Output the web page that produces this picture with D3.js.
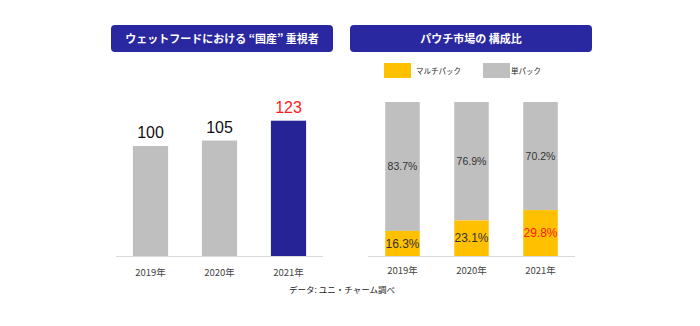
<!DOCTYPE html>
<html lang="ja">
<head>
<meta charset="utf-8">
<style>
  body { margin: 0; background: #fff; }
  text { font-family: "Liberation Sans", Arial, sans-serif; }
  .jp { font-family: "Noto Sans CJK JP", sans-serif; }
</style>
</head>
<body>
<svg width="700" height="326"></svg>
<script src="https://d3js.org/d3.v7.min.js"></script>
<script>
var years = ["2019年", "2020年", "2021年"];

// index of "domestic" preference
var domestic = [100, 105, 123];

// pouch market share (%)
var multiPack = [16.3, 23.1, 29.8];
var singlePack = [83.7, 76.9, 70.2];

var svg = d3.select("svg");
var baseY = 256;
var gray = "#bfbfbf", navy = "#262396", orange = "#ffc000", red = "#ff1a1a";

function titleBox(x, w, label) {
  svg.append("rect")
    .attr("x", x).attr("y", 25).attr("width", w).attr("height", 27)
    .attr("rx", 4).attr("fill", "#2a28a0");
  svg.append("text").attr("class", "jp")
    .attr("x", x + w / 2).attr("y", 42.5)
    .attr("text-anchor", "middle")
    .attr("fill", "#fff").attr("font-size", 11).attr("font-weight", "bold")
    .text(label);
}

function axisLine(x0, x1) {
  svg.append("line")
    .attr("x1", x0).attr("x2", x1).attr("y1", baseY + 0.5).attr("y2", baseY + 0.5)
    .attr("stroke", "#d9d9d9").attr("stroke-width", 1);
}

function yearLabels(x, y) {
  svg.append("g").selectAll("text")
    .data(years).join("text").attr("class", "jp")
    .attr("x", d => x(d) + x.bandwidth() / 2)
    .attr("y", y)
    .attr("text-anchor", "middle")
    .attr("fill", "#444").attr("font-size", 9.5)
    .text(d => d);
}

// left: domestic preference
titleBox(111, 222, "ウェットフードにおける “国産” 重視者");

var x1 = d3.scaleBand().domain(years).range([116, 323])
  .paddingInner(0.49).paddingOuter(0.245);
var y1 = d3.scaleLinear().domain([0, 100]).range([baseY, baseY - 110]);

axisLine(116, 323);

svg.append("g").selectAll("rect")
  .data(domestic).join("rect")
  .attr("x", (d, i) => x1(years[i]))
  .attr("y", d => y1(d))
  .attr("width", x1.bandwidth())
  .attr("height", d => baseY - y1(d))
  .attr("fill", (d, i) => i === 2 ? navy : gray);

svg.append("g").selectAll("text")
  .data(domestic).join("text")
  .attr("x", (d, i) => x1(years[i]) + x1.bandwidth() / 2)
  .attr("y", d => y1(d) - 8)
  .attr("text-anchor", "middle")
  .attr("font-size", 16)
  .attr("fill", (d, i) => i === 2 ? red : "#111")
  .text(d => d);

yearLabels(x1, 276);

// right: pouch market composition
titleBox(350, 242, "パウチ市場の 構成比");

var legend = [{ label: "マルチパック", color: orange, x: 384, gap: 5 },
              { label: "単パック", color: gray, x: 483, gap: 1 }];
var lg = svg.append("g").selectAll("g").data(legend).join("g");
lg.append("rect")
  .attr("x", d => d.x).attr("y", 63).attr("width", 27).attr("height", 15)
  .attr("fill", d => d.color);
lg.append("text").attr("class", "jp")
  .attr("x", d => d.x + 27 + d.gap).attr("y", 73.5)
  .attr("font-size", 7.5).attr("fill", "#222")
  .text(d => d.label);

var x2 = d3.scaleBand().domain(years).range([368, 575])
  .paddingInner(0.5).paddingOuter(0.25);
var y2 = d3.scaleLinear().domain([0, 100]).range([baseY, 102]);

axisLine(368, 575);

var stacks = years.map((yr, i) => ({ yr: yr, multi: multiPack[i], single: singlePack[i] }));

var bars = svg.append("g").selectAll("g").data(stacks).join("g");
bars.append("rect")
  .attr("x", d => x2(d.yr)).attr("width", x2.bandwidth())
  .attr("y", d => y2(d.multi + d.single))
  .attr("height", d => y2(d.multi) - y2(d.multi + d.single))
  .attr("fill", gray);
bars.append("rect")
  .attr("x", d => x2(d.yr)).attr("width", x2.bandwidth())
  .attr("y", d => y2(d.multi))
  .attr("height", d => baseY - y2(d.multi))
  .attr("fill", orange);

bars.append("text")
  .attr("x", d => x2(d.yr) + x2.bandwidth() / 2)
  .attr("y", d => (y2(d.multi) + y2(d.multi + d.single)) / 2)
  .attr("dy", "0.35em")
  .attr("text-anchor", "middle")
  .attr("font-size", 10.5).attr("fill", "#333")
  .text(d => d.single.toFixed(1) + "%");
bars.append("text")
  .attr("x", d => x2(d.yr) + x2.bandwidth() / 2)
  .attr("y", d => (y2(d.multi) + baseY) / 2)
  .attr("dy", "0.35em")
  .attr("text-anchor", "middle")
  .attr("font-size", 12)
  .attr("fill", (d, i) => i === 2 ? red : "#333")
  .text(d => d.multi.toFixed(1) + "%");

yearLabels(x2, 273.5);

// source note
svg.append("text").attr("class", "jp")
  .attr("x", 342).attr("y", 293)
  .attr("text-anchor", "middle")
  .attr("font-size", 8.5).attr("fill", "#222")
  .text("データ: ユニ・チャーム調べ");
</script>
</body>
</html>
